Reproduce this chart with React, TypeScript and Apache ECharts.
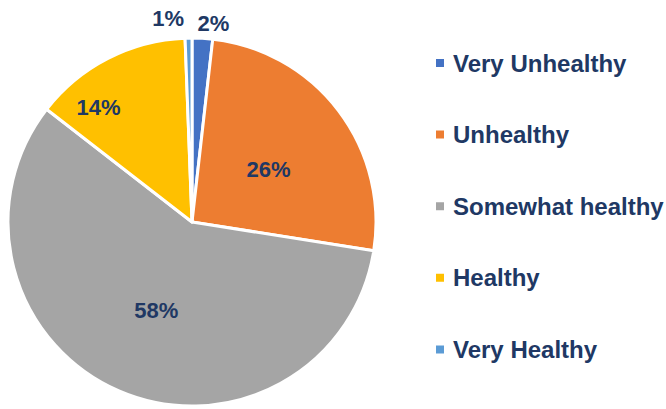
import React, { useEffect, useRef } from "react";
import * as echarts from "echarts";

const categories = ["Very Unhealthy", "Unhealthy", "Somewhat healthy", "Healthy", "Very Healthy"];
const values = [1.8, 25.7, 58.0, 13.9, 0.6];
const colors = ["#4472C4", "#ED7D31", "#A5A5A5", "#FFC000", "#5B9BD5"];
// label offsets from default inside position (styling only)
const labelOffsets: [number, number][] = [
  [16, -104],
  [1, 5],
  [2, 1],
  [-50, -30],
  [-22, -109],
];

const TEXT = "#203864";
const FONT = "'Liberation Sans', Arial, sans-serif";

export default function App() {
  const ref = useRef<HTMLDivElement>(null);
  useEffect(() => {
    document.body.style.margin = "0";
    const chart = echarts.init(ref.current!, null, { renderer: "svg" });
    chart.setOption({
      animation: false,
      color: colors,
      legend: {
        orient: "vertical",
        left: 434,
        top: 51,
        padding: 0,
        itemWidth: 10,
        itemHeight: 10,
        itemGap: 47.6,
        icon: "rect",
        data: categories,
        textStyle: {
          color: TEXT,
          fontSize: 24,
          fontWeight: "bold",
          fontFamily: FONT,
          lineHeight: 24,
          padding: [0, 0, 0, 3],
        },
      },
      series: [
        {
          type: "pie",
          center: [192, 222],
          radius: 184,
          startAngle: 90,
          clockwise: true,
          avoidLabelOverlap: false,
          itemStyle: { borderColor: "#fff", borderWidth: 3 },
          label: {
            show: true,
            position: "inside",
            color: TEXT,
            fontSize: 22,
            fontWeight: "bold",
            fontFamily: FONT,
            formatter: (p: any) => Math.round(p.value) + "%",
          },
          labelLine: { show: false },
          labelLayout: (p: any) => ({
            dx: labelOffsets[p.dataIndex][0],
            dy: labelOffsets[p.dataIndex][1],
          }),
          emphasis: { disabled: true },
          data: categories.map((name, i) => ({ name, value: values[i] })),
        },
      ],
    });
    return () => chart.dispose();
  }, []);
  return <div ref={ref} style={{ width: 666, height: 409 }} />;
}
